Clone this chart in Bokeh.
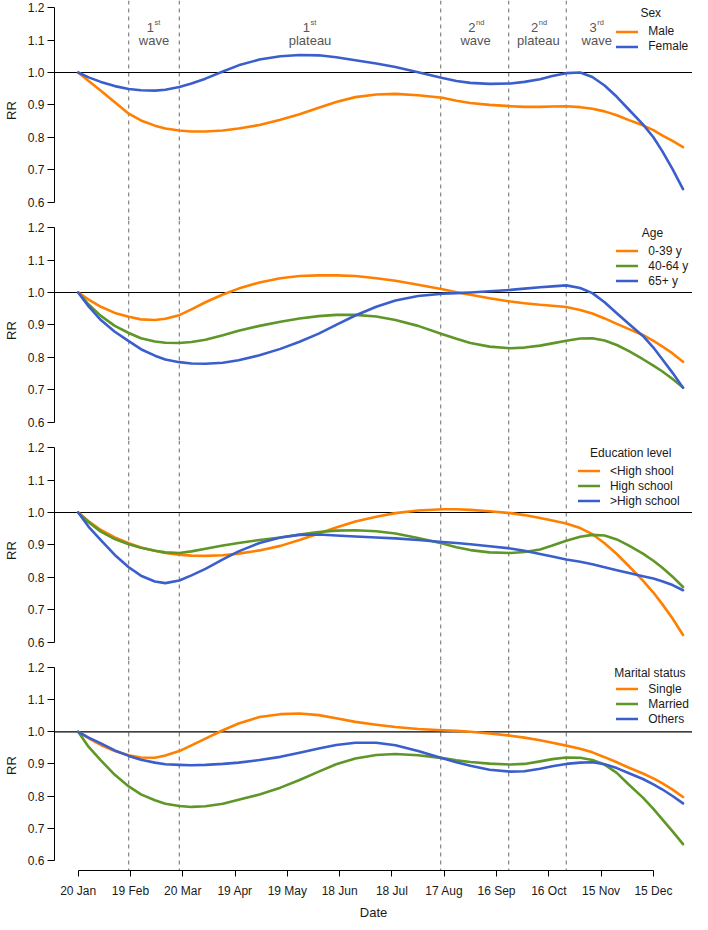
from bokeh.plotting import figure
from bokeh.layouts import column
from bokeh.models import (Range1d, FixedTicker, NumeralTickFormatter, Span,
                          Legend, LegendItem, Label, ColumnDataSource)
from bokeh.core.properties import value
from bokeh.embed import file_html
from bokeh.resources import INLINE

# ---------------- data (days since 20 Jan 2020) ----------------
days = [0, 6, 13, 21, 29, 36, 44, 50, 58, 65, 73, 83, 92, 104, 116, 127, 138, 148, 159, 171,
        182, 195, 209, 217, 225, 236, 248, 256, 265, 272, 280, 288, 295, 302, 309, 316, 324,
        330, 335, 341, 347]

sex_title = "Sex"
sex_labels = ["Male", "Female"]
sex_male = [1.000, 0.974, 0.944, 0.908, 0.873, 0.852, 0.836, 0.827, 0.821, 0.818, 0.818,
            0.821, 0.827, 0.838, 0.854, 0.871, 0.891, 0.909, 0.924, 0.932, 0.934, 0.930,
            0.922, 0.913, 0.906, 0.900, 0.896, 0.894, 0.894, 0.895, 0.896, 0.893, 0.888,
            0.880, 0.868, 0.853, 0.837, 0.822, 0.806, 0.789, 0.770]
sex_female = [1.000, 0.985, 0.971, 0.958, 0.949, 0.945, 0.944, 0.947, 0.955, 0.966, 0.981,
              1.003, 1.022, 1.040, 1.050, 1.054, 1.053, 1.047, 1.038, 1.028, 1.017, 1.001,
              0.983, 0.974, 0.968, 0.965, 0.966, 0.971, 0.979, 0.989, 0.998, 1.000, 0.986,
              0.960, 0.925, 0.885, 0.840, 0.800, 0.758, 0.702, 0.640]

age_title = "Age"
age_labels = ["0-39 y", "40-64 y", "65+ y"]
age_0_39 = [1.000, 0.978, 0.956, 0.937, 0.925, 0.917, 0.915, 0.919, 0.930, 0.948, 0.970,
            0.994, 1.012, 1.031, 1.044, 1.051, 1.053, 1.053, 1.051, 1.044, 1.036, 1.024,
            1.010, 1.001, 0.993, 0.982, 0.972, 0.967, 0.962, 0.959, 0.955, 0.946, 0.935,
            0.920, 0.903, 0.887, 0.869, 0.851, 0.834, 0.812, 0.786]
age_40_64 = [1.000, 0.963, 0.928, 0.897, 0.875, 0.859, 0.849, 0.845, 0.844, 0.847, 0.854,
             0.868, 0.882, 0.897, 0.910, 0.920, 0.927, 0.931, 0.931, 0.926, 0.915, 0.897,
             0.871, 0.857, 0.844, 0.833, 0.828, 0.830, 0.836, 0.843, 0.851, 0.858, 0.859,
             0.852, 0.838, 0.819, 0.794, 0.774, 0.757, 0.733, 0.707]
age_65p = [1.000, 0.957, 0.915, 0.879, 0.850, 0.825, 0.805, 0.793, 0.785, 0.781, 0.780,
           0.783, 0.791, 0.806, 0.826, 0.848, 0.873, 0.900, 0.929, 0.956, 0.975, 0.989,
           0.996, 0.998, 1.000, 1.004, 1.008, 1.012, 1.016, 1.019, 1.022, 1.014, 0.998,
           0.970, 0.936, 0.903, 0.866, 0.830, 0.795, 0.752, 0.706]

edu_title = "Education level"
edu_labels = ["<High shool", "High school", ">High school"]
edu_lt_hs = [1.000, 0.973, 0.946, 0.923, 0.905, 0.892, 0.882, 0.875, 0.870, 0.867, 0.866,
             0.868, 0.873, 0.883, 0.897, 0.915, 0.935, 0.954, 0.972, 0.987, 0.998, 1.006,
             1.010, 1.010, 1.008, 1.004, 0.998, 0.992, 0.983, 0.975, 0.966, 0.952, 0.933,
             0.905, 0.872, 0.834, 0.790, 0.753, 0.718, 0.673, 0.622]
edu_hs = [1.000, 0.970, 0.941, 0.918, 0.902, 0.891, 0.882, 0.877, 0.875, 0.880, 0.888,
          0.898, 0.906, 0.915, 0.923, 0.932, 0.940, 0.944, 0.945, 0.942, 0.935, 0.921,
          0.904, 0.893, 0.884, 0.877, 0.875, 0.878, 0.886, 0.898, 0.913, 0.925, 0.931,
          0.929, 0.917, 0.898, 0.873, 0.851, 0.830, 0.802, 0.770]
edu_gt_hs = [1.000, 0.956, 0.915, 0.869, 0.831, 0.805, 0.787, 0.782, 0.790, 0.806, 0.826,
             0.855, 0.880, 0.906, 0.923, 0.931, 0.932, 0.929, 0.926, 0.923, 0.920, 0.915,
             0.909, 0.906, 0.902, 0.896, 0.889, 0.882, 0.872, 0.864, 0.855, 0.848, 0.840,
             0.831, 0.822, 0.813, 0.803, 0.796, 0.788, 0.776, 0.760]

mar_title = "Marital status"
mar_labels = ["Single", "Married", "Others"]
mar_single = [1.000, 0.980, 0.959, 0.940, 0.927, 0.920, 0.919, 0.926, 0.940, 0.958, 0.979,
              1.005, 1.026, 1.046, 1.055, 1.057, 1.052, 1.042, 1.031, 1.022, 1.015, 1.009,
              1.005, 1.003, 1.000, 0.995, 0.988, 0.982, 0.974, 0.966, 0.957, 0.947, 0.936,
              0.921, 0.905, 0.888, 0.870, 0.855, 0.840, 0.820, 0.797]
mar_married = [1.000, 0.953, 0.911, 0.866, 0.830, 0.805, 0.787, 0.776, 0.769, 0.766, 0.768,
               0.776, 0.788, 0.805, 0.826, 0.850, 0.876, 0.899, 0.917, 0.928, 0.931, 0.927,
               0.918, 0.911, 0.906, 0.901, 0.898, 0.900, 0.908, 0.915, 0.920, 0.919, 0.912,
               0.898, 0.872, 0.835, 0.795, 0.760, 0.728, 0.690, 0.650]
mar_others = [1.000, 0.982, 0.964, 0.942, 0.925, 0.913, 0.904, 0.899, 0.897, 0.896, 0.897,
              0.900, 0.904, 0.912, 0.922, 0.935, 0.948, 0.959, 0.966, 0.966, 0.958, 0.940,
              0.918, 0.905, 0.894, 0.882, 0.876, 0.877, 0.885, 0.893, 0.900, 0.904, 0.905,
              0.899, 0.887, 0.871, 0.853, 0.836, 0.821, 0.800, 0.777]

x_tick_days = [0, 30, 60, 90, 120, 150, 180, 210, 240, 270, 300, 330]
x_tick_labels = ["20 Jan", "19 Feb", "20 Mar", "19 Apr", "19 May", "18 Jun",
                 "18 Jul", "17 Aug", "16 Sep", "16 Oct", "15 Nov", "15 Dec"]
y_ticks = [0.6, 0.7, 0.8, 0.9, 1.0, 1.1, 1.2]
reference_rr = 1.0

phase_bounds = [29, 58, 208, 247, 280]
phase_centers = [43.5, 133, 228, 264, 297.5]
phase_num = ["1", "1", "2", "2", "3"]
phase_sup = ["st", "st", "nd", "nd", "rd"]
phase_name = ["wave", "plateau", "wave", "plateau", "wave"]

# ---------------- style ----------------
FONT = "Liberation Sans"
ORANGE = "#FF7F00"
GREEN = "#5F9628"
BLUE = "#3A5FCD"
TXT = "#1a1a1a"
W = 692
LEFT = 54
FRAME_W = W - LEFT
PX_PER_DAY = 1.743
X0 = -(77.7 - LEFT) / PX_PER_DAY
X1 = X0 + FRAME_W / PX_PER_DAY
PPU = 324.0
H = 220
Y_TOP = 1.0 + 72 / PPU
Y_BOT = 1.0 - (H - 72) / PPU
FRAME4 = 212
BOTTOM4 = 50
Y_BOT4 = 1.0 - (FRAME4 - 72) / PPU


def build(height, y_top, y_bot, bottom, show_x):
    p = figure(width=W, height=height, x_range=Range1d(X0, X1), y_range=Range1d(y_bot, y_top),
               output_backend="svg", toolbar_location=None,
               x_axis_location="below" if show_x else None,
               min_border=0, min_border_left=LEFT, min_border_right=0,
               min_border_top=0, min_border_bottom=bottom)
    p.outline_line_color = None
    p.grid.visible = False
    ya = p.yaxis[0]
    ya.ticker = FixedTicker(ticks=y_ticks)
    ya.formatter = NumeralTickFormatter(format="0.0")
    ya.bounds = (0.6, 1.2)
    ya.minor_tick_line_color = None
    ya.major_tick_in = 0
    ya.major_tick_out = 7
    ya.axis_line_color = "black"
    ya.major_tick_line_color = "black"
    ya.major_label_text_font = FONT
    ya.major_label_text_font_size = "12px"
    ya.major_label_text_color = TXT
    ya.major_label_standoff = 3
    ya.axis_label = "RR"
    ya.axis_label_text_font = FONT
    ya.axis_label_text_font_size = "13px"
    ya.axis_label_text_font_style = "normal"
    ya.axis_label_text_color = TXT
    ya.axis_label_standoff = 6
    if show_x:
        xa = p.xaxis[0]
        xa.ticker = FixedTicker(ticks=x_tick_days)
        xa.major_label_overrides = dict(zip(x_tick_days, x_tick_labels))
        xa.bounds = (0, 330)
        xa.minor_tick_line_color = None
        xa.major_tick_in = 0
        xa.major_tick_out = 6
        xa.axis_line_color = "black"
        xa.major_tick_line_color = "black"
        xa.major_label_text_font = FONT
        xa.major_label_text_font_size = "12px"
        xa.major_label_text_color = TXT
        xa.major_label_standoff = 7
        xa.axis_label = "Date"
        xa.axis_label_text_font = FONT
        xa.axis_label_text_font_size = "13px"
        xa.axis_label_text_font_style = "normal"
        xa.axis_label_text_color = TXT
        xa.axis_label_standoff = 4
    for b in phase_bounds:
        p.add_layout(Span(location=b, dimension="height", line_color="#6a6a6a",
                          line_dash="4 4", line_width=1, level="underlay"))
    p.add_layout(Span(location=reference_rr, dimension="width", line_color="black",
                      line_width=1.2, level="underlay"))
    return p


def add_series(p, y_top, y_bot, frame_h, series, labels, colors, title, legend_day, title_day, bottom_item):
    ppu = frame_h / (y_top - y_bot)
    items = []
    for ys, lab, col in zip(series, labels, colors):
        r = p.line(days, ys, line_color=col, line_width=2.6, line_join="round", line_cap="round")
        items.append(LegendItem(label=lab, renderers=[r]))
    lx = (legend_day - X0) * PX_PER_DAY
    ly = (bottom_item - y_bot) * ppu - 7.5
    leg = Legend(items=items, location=(lx, ly), orientation="vertical",
                 padding=0, margin=0, spacing=0, glyph_width=22, glyph_height=15,
                 label_height=15, label_standoff=10, background_fill_alpha=0,
                 border_line_alpha=0, label_text_font=FONT, label_text_font_size="12px",
                 label_text_color=TXT)
    p.add_layout(leg)
    p.add_layout(Label(x=title_day, y=1.183, text=title, text_align="center",
                       text_baseline="middle", text_font=FONT, text_font_size="12px",
                       text_color=TXT))


H4 = FRAME4 + BOTTOM4
p1 = build(H, Y_TOP, Y_BOT, 0, False)
p2 = build(H, Y_TOP, Y_BOT, 0, False)
p3 = build(H, Y_TOP, Y_BOT, 0, False)
p4 = build(H4, Y_TOP, Y_BOT4, BOTTOM4, True)

add_series(p1, Y_TOP, Y_BOT, H, [sex_male, sex_female], sex_labels, [ORANGE, BLUE],
           sex_title, 309, 328.5, 1.08)
add_series(p2, Y_TOP, Y_BOT, H, [age_0_39, age_40_64, age_65p], age_labels,
           [ORANGE, GREEN, BLUE], age_title, 309, 329.5, 1.034)
add_series(p3, Y_TOP, Y_BOT, H, [edu_lt_hs, edu_hs, edu_gt_hs], edu_labels,
           [ORANGE, GREEN, BLUE], edu_title, 287, 317, 1.034)
add_series(p4, Y_TOP, Y_BOT4, FRAME4, [mar_single, mar_married, mar_others], mar_labels,
           [ORANGE, GREEN, BLUE], mar_title, 309, 328, 1.034)

# phase annotations (top panel)
src = ColumnDataSource(dict(x=phase_centers, num=phase_num, sup=phase_sup, name=phase_name,
                            y1=[1.139] * len(phase_centers), y2=[1.099] * len(phase_centers)))
p1.text(x="x", y="y1", text="num", source=src, text_font=value(FONT), text_font_size="13px",
        text_align="right", text_baseline="middle", text_color="#555555")
p1.text(x="x", y="y1", text="sup", source=src, text_font=value(FONT), text_font_size="7.5px",
        text_align="left", text_baseline="middle", text_color="#555555", x_offset=0.5, y_offset=-5)
p1.text(x="x", y="y2", text="name", source=src, text_font=value(FONT), text_font_size="13px",
        text_align="center", text_baseline="middle", text_color="#555555")

layout = column(p1, p2, p3, p4, spacing=0)
open("out.html", "w").write(file_html(layout, INLINE))
